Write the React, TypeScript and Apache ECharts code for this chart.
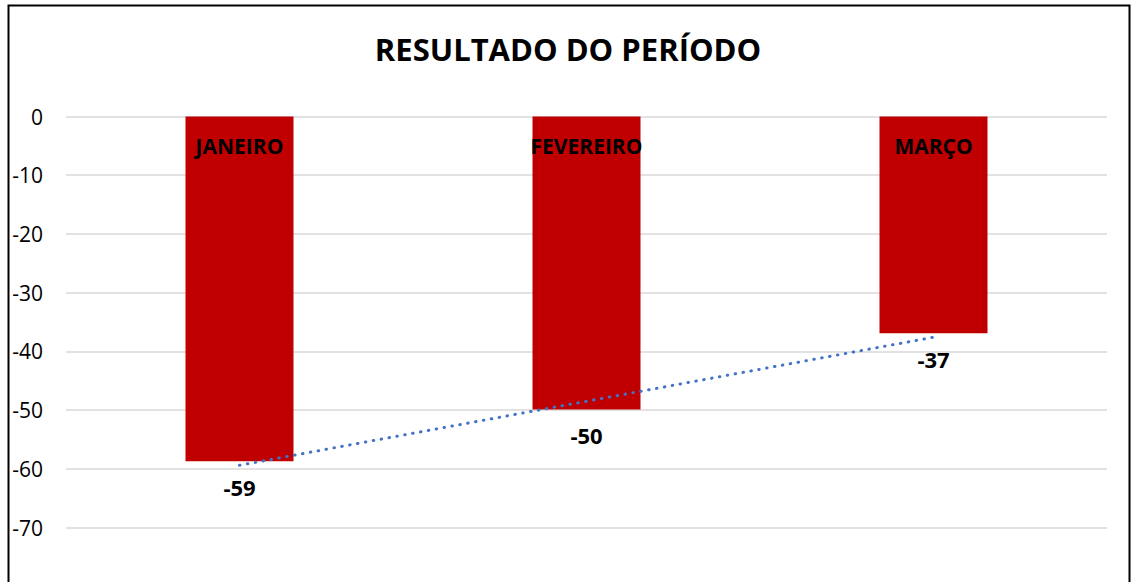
import React, { useEffect, useRef } from "react";
import * as echarts from "echarts";

const titleText = "RESULTADO DO PERÍODO";
const categories = ["JANEIRO", "FEVEREIRO", "MARÇO"];
const resultValues = [-58.7, -49.9, -36.9];
const trendValues = [-59.4, -48.5, -37.6];
const yMin = -70;
const yMax = 0;
const yInterval = 10;

const FONT = "'Open Sans', 'Noto Sans', sans-serif";

export default function App() {
  const ref = useRef<HTMLDivElement>(null);

  useEffect(() => {
    if (!ref.current) return;
    const chart = echarts.init(ref.current, null, { renderer: "svg" });
    chart.setOption({
      animation: false,
      backgroundColor: "#ffffff",
      textStyle: { fontFamily: FONT },
      title: {
        text: titleText,
        left: 563,
        top: 28,
        textAlign: "center",
        textStyle: { fontFamily: FONT, fontSize: 31, fontWeight: "bold", color: "#000000" },
      },
      graphic: [
        {
          type: "rect",
          shape: { x: 8.5, y: 5.5, width: 1121, height: 620 },
          style: { fill: "none", stroke: "#000000", lineWidth: 2 },
          silent: true,
          z: 100,
        },
      ],
      grid: { left: 66, right: 31, top: 116.5, bottom: 54.5 },
      xAxis: {
        type: "category",
        data: categories,
        position: "top",
        axisLine: { show: false },
        axisTick: { show: false },
        axisLabel: {
          inside: true,
          margin: 19,
          fontFamily: FONT,
          fontSize: 21,
          fontWeight: "bold",
          color: "#000000",
        },
        z: 10,
      },
      yAxis: {
        type: "value",
        min: yMin,
        max: yMax,
        interval: yInterval,
        axisLine: { show: false },
        axisTick: { show: false },
        axisLabel: { fontFamily: FONT, fontSize: 21, color: "#000000", margin: 23 },
        splitLine: { lineStyle: { color: "#d9d9d9", width: 1.5 } },
      },
      series: [
        {
          type: "bar",
          data: resultValues,
          barWidth: 108,
          itemStyle: { color: "#C00000" },
          label: {
            show: true,
            position: "bottom",
            distance: 15,
            formatter: (p: any) => String(Math.round(p.value)),
            fontFamily: FONT,
            fontSize: 22,
            fontWeight: "bold",
            color: "#000000",
          },
          z: 2,
        },
        {
          type: "line",
          data: trendValues,
          symbol: "none",
          lineStyle: { color: "#4472C4", width: 3, type: [0.5, 7.5], cap: "round" },
          z: 5,
        },
      ],
    });
    return () => chart.dispose();
  }, []);

  return (
    <div
      ref={ref}
      style={{ position: "fixed", left: 0, top: 0, width: 1138, height: 582 }}
    />
  );
}
